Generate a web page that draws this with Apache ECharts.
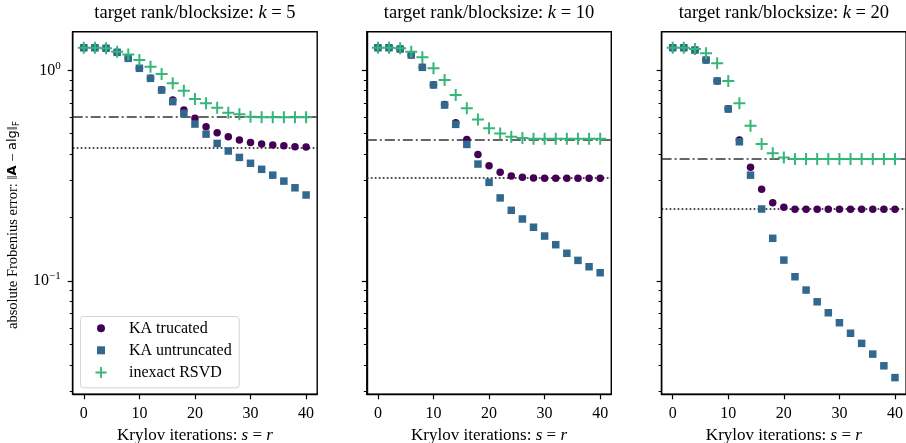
<!DOCTYPE html>
<html>
<head>
<meta charset="utf-8">
<script src="https://cdn.jsdelivr.net/npm/echarts@6/dist/echarts.min.js"></script>
<style>
  html, body { margin: 0; padding: 0; background: #ffffff; }
  #chart { width: 906px; height: 443px; }
</style>
</head>
<body>
<div id="chart"></div>
<script>
// Krylov iteration counts (s = r) shared by every panel
const iterations = [0, 2, 4, 6, 8, 10, 12, 14, 16, 18, 20, 22, 24, 26, 28, 30, 32, 34, 36, 38, 40];

// target rank / blocksize of each panel
const blockSizes = [5, 10, 20];

// absolute Frobenius error, k = 5
const truncatedK5   = [1.28, 1.28, 1.272, 1.217, 1.14, 1.022, 0.918, 0.808, 0.723, 0.648, 0.592, 0.540, 0.506, 0.484, 0.467, 0.455, 0.447, 0.442, 0.439, 0.434, 0.432];
const untruncatedK5 = [1.28, 1.28, 1.272, 1.217, 1.14, 1.022, 0.916, 0.806, 0.710, 0.625, 0.556, 0.498, 0.450, 0.414, 0.386, 0.362, 0.339, 0.318, 0.298, 0.277, 0.256];
const rsvdK5        = [1.28, 1.28, 1.272, 1.226, 1.19, 1.119, 1.04, 0.960, 0.868, 0.800, 0.731, 0.697, 0.665, 0.629, 0.618, 0.602, 0.598, 0.598, 0.598, 0.598, 0.598];

// absolute Frobenius error, k = 10
const truncatedK10   = [1.28, 1.28, 1.262, 1.182, 1.033, 0.854, 0.688, 0.564, 0.470, 0.399, 0.3525, 0.328, 0.315, 0.3105, 0.308, 0.3072, 0.3072, 0.3072, 0.3072, 0.3072, 0.3072];
const untruncatedK10 = [1.28, 1.28, 1.262, 1.182, 1.033, 0.852, 0.684, 0.554, 0.445, 0.359, 0.294, 0.248, 0.2166, 0.197, 0.180, 0.1635, 0.1487, 0.1354, 0.1253, 0.1169, 0.1095];
const rsvdK10        = [1.28, 1.28, 1.272, 1.226, 1.152, 1.022, 0.899, 0.763, 0.660, 0.585, 0.531, 0.502, 0.484, 0.477, 0.474, 0.474, 0.474, 0.474, 0.474, 0.474, 0.474];

// absolute Frobenius error, k = 20
const truncatedK20   = [1.28, 1.28, 1.248, 1.119, 0.890, 0.657, 0.467, 0.3464, 0.2724, 0.2353, 0.2238, 0.2189, 0.2189, 0.2189, 0.2189, 0.2189, 0.2189, 0.2189, 0.2189, 0.2189, 0.2189];
const untruncatedK20 = [1.28, 1.28, 1.248, 1.119, 0.890, 0.655, 0.458, 0.318, 0.2197, 0.1595, 0.1257, 0.1048, 0.0906, 0.0797, 0.0707, 0.0634, 0.0565, 0.0506, 0.0450, 0.0396, 0.0348];
const rsvdK20        = [1.28, 1.28, 1.262, 1.204, 1.080, 0.890, 0.697, 0.546, 0.447, 0.404, 0.386, 0.379, 0.379, 0.379, 0.379, 0.379, 0.379, 0.379, 0.379, 0.379, 0.379];

// reference error levels drawn as horizontal lines
const truncatedFloor = [0.426, 0.306, 0.2185];   // dotted
const rsvdFloor      = [0.598, 0.474, 0.379];    // dash-dot

// axis ticks
const xTicks = [0, 10, 20, 30, 40];
const yMajorTicks = [0.1, 1];
const yMinorTicks = [0.03, 0.04, 0.05, 0.06, 0.07, 0.08, 0.09, 0.2, 0.3, 0.4, 0.5, 0.6, 0.7, 0.8, 0.9];

const seriesNames = ['KA trucated', 'KA untruncated', 'inexact RSVD'];
const truncated   = [truncatedK5, truncatedK10, truncatedK20];
const untruncated = [untruncatedK5, untruncatedK10, untruncatedK20];
const rsvd        = [rsvdK5, rsvdK10, rsvdK20];

const SERIF = '"Liberation Serif", "DejaVu Serif", serif';
const SANS = '"DejaVu Sans", sans-serif';
const PURPLE = '#440154', BLUE = '#31688e', GREEN = '#35b779';
const PLUS = 'path://M5,0H7V5H12V7H7V12H5V7H0V5H5Z';

const Y_MIN = 0.029, Y_MAX = 1.525;
const gridLefts = [72.7, 366.8, 661.6];
const GRID_TOP = 31.7, GRID_W = 244.5, GRID_H = 362.6;

const chart = echarts.init(document.getElementById('chart'), null, { renderer: 'canvas' });

const grids = [], xAxes = [], yAxes = [], series = [], titles = [];

blockSizes.forEach((k, i) => {
  grids.push({
    left: gridLefts[i], top: GRID_TOP, width: GRID_W, height: GRID_H,
    show: true, borderColor: '#000', borderWidth: 1.4, backgroundColor: '#fff',
    containLabel: false, outerBoundsMode: 'none'
  });

  titles.push({
    text: 'target rank/blocksize: {i|k} = ' + k,
    left: gridLefts[i] + GRID_W / 2, top: 4, textAlign: 'center', padding: 0,
    textStyle: {
      fontFamily: SERIF, fontSize: 18.5, fontWeight: 'normal', color: '#000',
      rich: { i: { fontFamily: SERIF, fontSize: 18.5, fontStyle: 'italic', color: '#000' } }
    }
  });

  xAxes.push({
    type: 'value', gridIndex: i, min: -2, max: 42,
    name: 'Krylov iterations: {i|s} = {i|r}', nameLocation: 'middle', nameGap: 32.5,
    nameTextStyle: {
      fontFamily: SERIF, fontSize: 17, color: '#000',
      rich: { i: { fontFamily: SERIF, fontSize: 17, fontStyle: 'italic', color: '#000' } }
    },
    axisLine: { show: true, onZero: false, lineStyle: { color: '#000', width: 1.4 } },
    axisTick: { show: true, length: 5, customValues: xTicks, lineStyle: { color: '#000', width: 1.2 } },
    axisLabel: { show: true, customValues: xTicks, margin: 11, fontFamily: SERIF, fontSize: 16, color: '#000' },
    splitLine: { show: false }
  });

  // major decades (labelled only on the first panel)
  yAxes.push({
    type: 'log', gridIndex: i, position: 'left', min: Y_MIN, max: Y_MAX, logBase: 10,
    name: i === 0 ? 'absolute Frobenius error: \u2016{b|A} \u2212 {sf|alg}\u2016{sub|F}' : '',
    nameLocation: 'middle', nameGap: 52, nameRotate: 90,
    nameTextStyle: {
      fontFamily: SERIF, fontSize: 14.5, color: '#000', lineHeight: 16,
      padding: [0, 24, 0, 0],
      rich: {
        b: { fontFamily: SANS, fontWeight: 'bold', fontSize: 13, color: '#000', lineHeight: 16 },
        sf: { fontFamily: SANS, fontSize: 13, color: '#000', lineHeight: 16 },
        sub: { fontFamily: SANS, fontSize: 9, color: '#000', verticalAlign: 'bottom', lineHeight: 16 }
      }
    },
    axisLine: { show: true, onZero: false, lineStyle: { color: '#000', width: 1.4 } },
    axisTick: { show: true, length: 5, customValues: yMajorTicks, lineStyle: { color: '#000', width: 1.2 } },
    axisLabel: {
      show: i === 0, customValues: yMajorTicks, margin: 12,
      formatter: v => '{b|10}{s|' + (Math.abs(v - 1) < 1e-9 ? '0' : '\u22121') + '}',
      rich: {
        b: { fontFamily: SERIF, fontSize: 16, color: '#000', lineHeight: 20 },
        s: { fontFamily: SERIF, fontSize: 11, color: '#000', verticalAlign: 'top', lineHeight: 20 }
      }
    },
    splitLine: { show: false }
  });
  // minor ticks between decades
  yAxes.push({
    type: 'log', gridIndex: i, position: 'left', min: Y_MIN, max: Y_MAX, logBase: 10,
    axisLine: { show: false, onZero: false },
    axisTick: { show: true, length: 3, customValues: yMinorTicks, lineStyle: { color: '#000', width: 1 } },
    axisLabel: { show: false },
    splitLine: { show: false }
  });

  const pairs = arr => iterations.map((s, j) => [s, arr[j]]);

  series.push({
    type: 'scatter', name: seriesNames[0], xAxisIndex: i, yAxisIndex: 2 * i,
    symbol: 'circle', symbolSize: 7.5, z: 2,
    itemStyle: { color: PURPLE, opacity: 1 },
    emphasis: { disabled: true },
    data: pairs(truncated[i]),
    markLine: {
      silent: true, symbol: 'none', z: 1, animation: false,
      label: { show: false },
      lineStyle: { color: '#111', width: 1.6, type: [1.7, 2.3] },
      emphasis: { disabled: true },
      data: [{ yAxis: truncatedFloor[i] }]
    }
  });
  series.push({
    type: 'scatter', name: seriesNames[1], xAxisIndex: i, yAxisIndex: 2 * i,
    symbol: 'rect', symbolSize: 7.5, z: 3,
    itemStyle: { color: BLUE, opacity: 1 },
    emphasis: { disabled: true },
    data: pairs(untruncated[i])
  });
  series.push({
    type: 'scatter', name: seriesNames[2], xAxisIndex: i, yAxisIndex: 2 * i,
    symbol: PLUS, symbolSize: 12, z: 4,
    itemStyle: { color: GREEN, opacity: 1 },
    emphasis: { disabled: true },
    data: pairs(rsvd[i]),
    markLine: {
      silent: true, symbol: 'none', z: 1, animation: false,
      label: { show: false },
      lineStyle: { color: '#333', width: 1.6, type: [10, 3, 2, 3] },
      emphasis: { disabled: true },
      data: [{ yAxis: rsvdFloor[i] }]
    }
  });
});

// one legend row per entry so each marker keeps its own size
const legendRows = [
  { name: seriesNames[0], top: 320.3, size: 8, left: 97, gap: 19 },
  { name: seriesNames[1], top: 342.3, size: 8, left: 97, gap: 19 },
  { name: seriesNames[2], top: 364.5, size: 11, left: 95.5, gap: 17.5 }
];
const legends = legendRows.map(r => ({
  data: [r.name], left: r.left, top: r.top, orient: 'vertical', padding: 0,
  itemWidth: r.size, itemHeight: r.size, selectedMode: false,
  formatter: name => '{g|}' + name,
  textStyle: {
    fontFamily: SERIF, fontSize: 16, color: '#000', lineHeight: 16,
    rich: { g: { width: r.gap } }
  }
}));

chart.setOption({
  animation: false,
  backgroundColor: '#fff',
  title: titles,
  grid: grids,
  xAxis: xAxes,
  yAxis: yAxes,
  legend: legends,
  graphic: [{
    type: 'rect', left: 80, top: 316, z: 3, silent: true,
    shape: { width: 158.7, height: 71.3, r: 3 },
    style: { fill: 'rgba(255,255,255,0.85)', stroke: '#d4d4d4', lineWidth: 1 }
  }],
  series: series
});
</script>
</body>
</html>
